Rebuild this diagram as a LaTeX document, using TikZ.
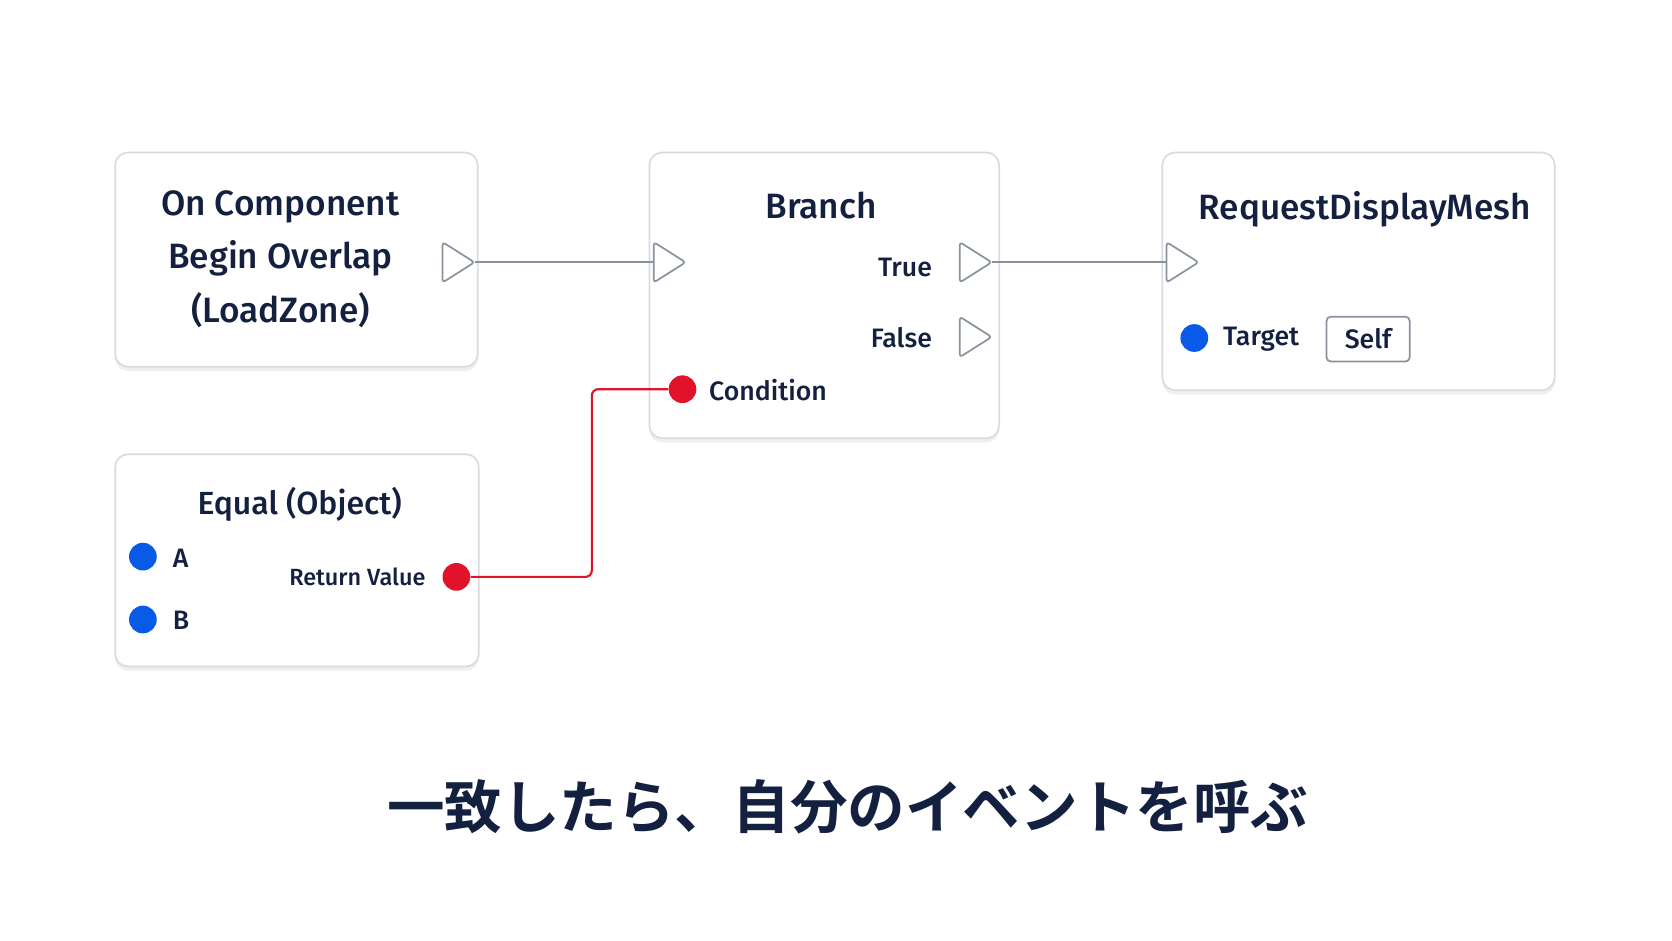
\documentclass[tikz,border=0pt]{standalone}
\usepackage{fontspec}
\setmainfont{Fira Sans}[BoldFont={Fira Sans Medium}]
\newfontfamily\cjk{Noto Sans CJK JP}[BoldFont={* Bold}]
\usetikzlibrary{shadows,calc}
\definecolor{ink}{HTML}{14203F}
\definecolor{pinb}{HTML}{0A5AE8}
\definecolor{pinr}{HTML}{E0132A}
\definecolor{edge}{HTML}{D8DCE2}
\definecolor{wire}{HTML}{8A929E}
\begin{document}
\begin{tikzpicture}[x=0.5pt,y=-0.5pt,
  box/.style={draw=edge,line width=0.8pt,fill=white,rounded corners=6pt,drop shadow={shadow xshift=0pt,shadow yshift=-2pt,opacity=0.12}},
  ttl/.style={text=ink,font=\fontsize{16.5}{21}\selectfont\bfseries,align=center},
  lbl/.style={text=ink,font=\fontsize{12.5}{15}\selectfont\bfseries},
  exec/.style={draw=wire,line width=0.8pt,fill=white,rounded corners=1.5pt},
  pin/.style={circle,inner sep=0pt,minimum size=13pt},
  wireg/.style={draw=wire,line width=0.9pt},
  wirer/.style={draw=pinr,line width=1pt,rounded corners=3pt}]
\fill[white!97!blue!2] (0,0) rectangle (1568,882);
\useasboundingbox (0,0) rectangle (1568,882);
% boxes
\draw[box] (108,143) rectangle (448,344);
\draw[box] (609,143) rectangle (937,411);
\draw[box] (1090,143) rectangle (1458,366);
\draw[box] (108,426) rectangle (449,625);
% titles
\node[ttl] (t1) at (263,243) {On Component\\[4pt]Begin Overlap\\[4pt](LoadZone)};
\node[ttl] (t2) at (770,193) {Branch};
\node[ttl] (t3) at (1280,196) {RequestDisplayMesh};
\node[ttl,font=\fontsize{15}{18}\selectfont\bfseries] (t4) at (281,473) {Equal (Object)};
% exec pins
\coordinate (e1) at (415,246); \coordinate (e2) at (613,246);
\coordinate (e3) at (900,246); \coordinate (e4) at (900,316);
\coordinate (e5) at (1094,246);
\foreach \c in {e1,e2,e3,e4,e5}
  \draw[exec] ($(\c)+(0,-19)$) -- ($(\c)+(30,0)$) -- ($(\c)+(0,19)$) -- cycle;
% wires
\draw[wireg] ($(e1)+(30,0)$) -- (e2);
\draw[wireg] ($(e3)+(30,0)$) -- (e5);
% labels
\node[lbl,anchor=east] (lt) at (881,251) {True};
\node[lbl,anchor=east] (lf) at (881,317) {False};
\node[pin,fill=pinr] (pc) at (640,365) {};
\node[lbl,anchor=west] (lc) at (658,366) {Condition};
\node[pin,fill=pinb] (pt) at (1120,317) {};
\node[lbl,anchor=west] (ltg) at (1140,318) {Target};
\node[draw=wire,line width=0.8pt,rounded corners=2pt,minimum width=39pt,minimum height=21pt,text=ink,font=\fontsize{12.5}{15}\selectfont\bfseries] (self) at (1283,318) {Self};
\node[pin,fill=pinb] (pa) at (134,522) {};
\node[lbl,anchor=west] (la) at (155,524) {A};
\node[pin,fill=pinb] (pb) at (134,581) {};
\node[lbl,anchor=west] (lb) at (155,582) {B};
\node[pin,fill=pinr] (pr) at (428,541) {};
\node[lbl,anchor=east,font=\fontsize{11}{13}\selectfont\bfseries] (lr) at (406,541) {Return Value};
\draw[wirer] (pr.east) -- (555,541) -- (555,365) -- (pc.west);
% caption
\node[text=ink,font=\cjk\bfseries\fontsize{27}{32}\selectfont] (cap) at (795,757) {一致したら、自分のイベントを呼ぶ};
\end{tikzpicture}
\end{document}
